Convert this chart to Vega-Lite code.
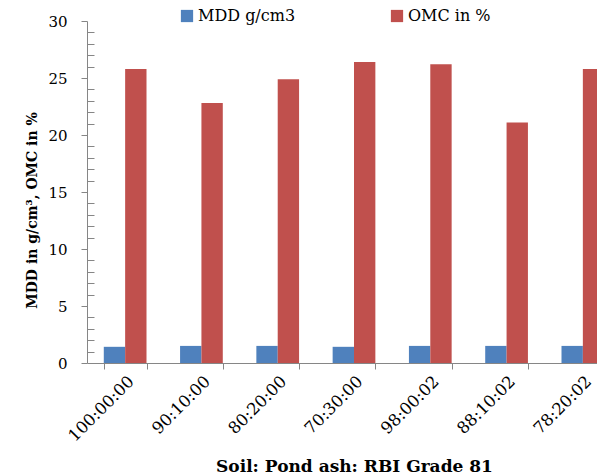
{
  "$schema": "https://vega.github.io/schema/vega-lite/v6.json",
  "width": 534,
  "height": 342,
  "autosize": {"type": "none"},
  "padding": {"left": 87, "top": 21, "right": -24, "bottom": 112},
  "background": "white",
  "data": {
    "values": [
      {"mix": "100:00:00", "series": "MDD g/cm3", "value": 1.42},
      {"mix": "100:00:00", "series": "OMC in %", "value": 25.8},
      {"mix": "90:10:00", "series": "MDD g/cm3", "value": 1.5},
      {"mix": "90:10:00", "series": "OMC in %", "value": 22.8},
      {"mix": "80:20:00", "series": "MDD g/cm3", "value": 1.5},
      {"mix": "80:20:00", "series": "OMC in %", "value": 24.9},
      {"mix": "70:30:00", "series": "MDD g/cm3", "value": 1.42},
      {"mix": "70:30:00", "series": "OMC in %", "value": 26.4},
      {"mix": "98:00:02", "series": "MDD g/cm3", "value": 1.5},
      {"mix": "98:00:02", "series": "OMC in %", "value": 26.2},
      {"mix": "88:10:02", "series": "MDD g/cm3", "value": 1.5},
      {"mix": "88:10:02", "series": "OMC in %", "value": 21.1},
      {"mix": "78:20:02", "series": "MDD g/cm3", "value": 1.5},
      {"mix": "78:20:02", "series": "OMC in %", "value": 25.8}
    ]
  },
  "mark": {"type": "bar"},
  "encoding": {
    "x": {
      "field": "mix",
      "type": "nominal",
      "sort": null,
      "scale": {"paddingInner": 0.44, "paddingOuter": 0.22},
      "axis": {
        "title": "Soil: Pond ash: RBI Grade 81",
        "titleFont": "DejaVu Serif",
        "titleFontWeight": "bold",
        "titleFontSize": 17,
        "titleColor": "black",
        "titleBaseline": "top",
        "titleY": 95,
        "labelAngle": -45,
        "labelFont": "DejaVu Serif",
        "labelFontSize": 16.5,
        "labelColor": "black",
        "labelPadding": 4,
        "tickBand": "extent",
        "tickSize": 6,
        "tickColor": "#868686",
        "domainColor": "#868686",
        "grid": false
      }
    },
    "xOffset": {"field": "series", "type": "nominal", "scale": {"paddingInner": 0, "paddingOuter": 0}},
    "y": {
      "field": "value",
      "type": "quantitative",
      "scale": {"domain": [0, 30], "nice": false},
      "axis": {
        "title": "MDD in g/cm³, OMC in %",
        "titleFont": "DejaVu Serif",
        "titleFontWeight": "bold",
        "titleFontSize": 14,
        "titleColor": "black",
        "titleY": 189,
        "titlePadding": 8,
        "values": [0,1,2,3,4,5,6,7,8,9,10,11,12,13,14,15,16,17,18,19,20,21,22,23,24,25,26,27,28,29,30],
        "labelExpr": "datum.value % 5 === 0 ? datum.label : ''",
        "labelOverlap": false,
        "labelFont": "DejaVu Serif",
        "labelFontSize": 15,
        "labelColor": "black",
        "labelPadding": 14,
        "tickSize": {"condition": {"test": "datum.value % 5 === 0", "value": 6}, "value": -7},
        "tickColor": "#868686",
        "domainColor": "#868686",
        "grid": false
      }
    },
    "color": {
      "field": "series",
      "type": "nominal",
      "scale": {"domain": ["MDD g/cm3", "OMC in %"], "range": ["#4F81BD", "#C0504D"]},
      "legend": {
        "title": null,
        "orient": "none",
        "direction": "horizontal",
        "legendX": 92,
        "legendY": -13,
        "symbolType": "square",
        "symbolSize": 150,
        "symbolStrokeWidth": 0,
        "labelFont": "DejaVu Serif",
        "labelFontSize": 16,
        "labelColor": "black",
        "labelOffset": 3,
        "columnPadding": 93,
        "labelLimit": 300
      }
    }
  },
  "config": {"view": {"stroke": null}}
}
